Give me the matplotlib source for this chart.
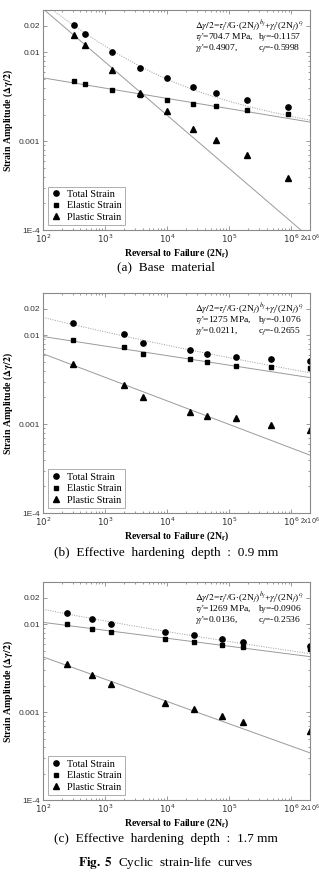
import numpy as np
import matplotlib
matplotlib.use("Agg")
import matplotlib.pyplot as plt
from matplotlib.ticker import LogLocator, NullFormatter

plt.rcParams['mathtext.fontset'] = 'stix'
plt.rcParams['font.family'] = 'Liberation Serif'

# shear modulus used in the fits (MPa)
G = 80000.0

# (a) base material
a_n_total = [314, 474, 1300, 3650, 9900, 26000, 60000, 191000, 873000]
a_total = [0.0205, 0.0163, 0.0101, 0.00676, 0.00511, 0.00404, 0.00351, 0.00295, 0.00241]
a_n_elastic = [314, 474, 1300, 3650, 9900, 26000, 60000, 191000, 873000]
a_elastic = [0.00476, 0.00436, 0.00380, 0.00334, 0.00295, 0.00266, 0.00248, 0.00227, 0.00203]
a_n_plastic = [314, 474, 1300, 3650, 9900, 26000, 60000, 191000, 873000]
a_plastic = [0.0157, 0.0120, 0.00641, 0.00348, 0.00217, 0.00138, 0.00102, 0.00070, 0.00039]
a_params = [704.7, -0.1157, 0.4907, -0.5998]

# (b) hardening depth 0.9 mm
b_n = [299, 2010, 4130, 23300, 44000, 127000, 468000, 2000000]
b_total = [0.01365, 0.01026, 0.00821, 0.00684, 0.00616, 0.00574, 0.00545, 0.00518]
b_elastic = [0.00886, 0.00745, 0.00616, 0.00541, 0.00496, 0.00455, 0.00443, 0.00425]
b_plastic = [0.00479, 0.00278, 0.00202, 0.00139, 0.00124, 0.00118, 0.00099, 0.00085]
b_params = [1275, -0.1076, 0.0211, -0.2655]

# (c) hardening depth 1.7 mm
c_n = [239, 615, 1220, 9160, 26700, 76900, 164000, 2000000]
c_total = [0.01343, 0.01148, 0.0101, 0.00805, 0.00745, 0.00677, 0.00632, 0.0056]
c_elastic = [0.00991, 0.00886, 0.00805, 0.00684, 0.00632, 0.00585, 0.00555, 0.00514]
c_plastic = [0.00354, 0.00261, 0.00209, 0.00126, 0.00109, 0.00091, 0.00078, 0.000605]
c_params = [1269, -0.0906, 0.0136, -0.2536]

x_ticks = [1e2, 1e3, 1e4, 1e5, 1e6, 2e6]
x_labels = ['$10^{2}$', '$10^{3}$', '$10^{4}$', '$10^{5}$', '$10^{6}$', '2x$10^{6}$']
y_ticks = [1e-4, 1e-3, 1e-2, 2e-2]
y_labels = ['1E-4', '0.001', '0.01', '0.02']

captions = ['(a)  Base  material',
            '(b)  Effective  hardening  depth  :  0.9 mm',
            '(c)  Effective  hardening  depth  :  1.7 mm']

gray = '#8a8a8a'


def panel(ax, n_t, tot, n_e, el, n_p, pl, params):
    tau, b, gam, c = params
    nn = np.logspace(2, np.log10(2e6), 200)
    e_fit = tau / G * nn ** b
    p_fit = gam * nn ** c
    ax.plot(nn, e_fit, color='#9a9a9a', lw=0.7)
    ax.plot(nn, p_fit, color='#9a9a9a', lw=0.7)
    ax.plot(nn, e_fit + p_fit, color='#9a9a9a', lw=0.7, ls=(0, (1, 1.5)))
    h1, = ax.plot(n_t, tot, 'o', color='k', ms=3.8, ls='none')
    h2, = ax.plot(n_e, el, 's', color='k', ms=3.4, ls='none')
    h3, = ax.plot(n_p, pl, '^', color='k', ms=4.0, ls='none')
    ax.set_xscale('log')
    ax.set_yscale('log')
    ax.set_xlim(1e2, 2e6)
    ax.set_ylim(1e-4, 0.03)
    ax.set_xticks(x_ticks)
    ax.set_xticklabels(x_labels, family='Liberation Sans', fontsize=6.3, color='#333333')
    for t in ax.get_xticklabels():
        t.set_math_fontfamily('dejavusans')
    ax.get_xticklabels()[-1].set_fontsize(4.8)
    ax.set_yticks(y_ticks)
    ax.set_yticklabels(y_labels, family='Liberation Sans', fontsize=6, color='#333333')
    ax.xaxis.set_minor_locator(LogLocator(base=10, subs=np.arange(2, 10)))
    ax.yaxis.set_minor_locator(LogLocator(base=10, subs=np.arange(2, 10)))
    ax.xaxis.set_minor_formatter(NullFormatter())
    ax.yaxis.set_minor_formatter(NullFormatter())
    ax.tick_params(which='both', direction='in', top=True, right=True, color=gray, width=0.6)
    ax.tick_params(which='major', length=3, pad=2)
    ax.tick_params(which='minor', length=1.6)
    for s in ax.spines.values():
        s.set_color(gray)
        s.set_linewidth(0.8)
    ax.set_xlabel(r'Reversal to Failure (2N$_\mathbf{f}$)', fontsize=7, fontweight='bold', labelpad=1)
    ax.set_ylabel(r'Strain Amplitude ($\mathbf{\Delta\gamma/2}$)', fontsize=7, fontweight='bold', labelpad=3)
    leg = ax.legend([h1, h2, h3], ['Total Strain', 'Elastic Strain', 'Plastic Strain'],
                    loc='lower left', fontsize=7.3, frameon=True, fancybox=False,
                    handlelength=1.0, handletextpad=0.6, borderpad=0.3, labelspacing=0.25,
                    borderaxespad=0.5)
    leg.get_frame().set_edgecolor('#999999')
    leg.get_frame().set_linewidth(0.7)
    fs = 6.8
    ax.text(0.57, 0.93, r"$\Delta\gamma/2$=$\tau_f$'/G$\cdot$(2N$_f$)$^{b_f}$+$\gamma_f$'(2N$_f$)$^{c_f}$",
            transform=ax.transAxes, fontsize=fs, va='center')
    ax.text(0.57, 0.875, r"$\tau_f$'=%g MPa," % tau, transform=ax.transAxes,
            fontsize=fs, va='center')
    ax.text(0.805, 0.875, r"b$_f$=%g" % b, transform=ax.transAxes, fontsize=fs, va='center')
    ax.text(0.57, 0.825, r"$\gamma_f$'=%g," % gam, transform=ax.transAxes, fontsize=fs, va='center')
    ax.text(0.805, 0.825, r"c$_f$=%g" % c, transform=ax.transAxes, fontsize=fs, va='center')


fig = plt.figure(figsize=(3.19, 8.75), dpi=100)
ax1 = fig.add_axes([0.135, 0.7371, 0.837, 0.2514])
ax2 = fig.add_axes([0.135, 0.4137, 0.837, 0.2514])
ax3 = fig.add_axes([0.135, 0.0857, 0.837, 0.2491])

panel(ax1, a_n_total, a_total, a_n_elastic, a_elastic, a_n_plastic, a_plastic, a_params)
panel(ax2, b_n, b_total, b_n, b_elastic, b_n, b_plastic, b_params)
panel(ax3, c_n, c_total, c_n, c_elastic, c_n, c_plastic, c_params)

fig.text(0.52, 1 - 267 / 875, captions[0], ha='center', va='center', fontsize=9.5)
fig.text(0.52, 1 - 553 / 875, captions[1], ha='center', va='center', fontsize=9.5)
fig.text(0.52, 1 - 839 / 875, captions[2], ha='center', va='center', fontsize=9.5)
fig.text(0.52, 1 - 863 / 875, r'$\mathbf{Fig.\ 5}$  Cyclic  strain-life  curves',
         ha='center', va='center', fontsize=9.5)

fig.savefig('out.png', dpi=100)
